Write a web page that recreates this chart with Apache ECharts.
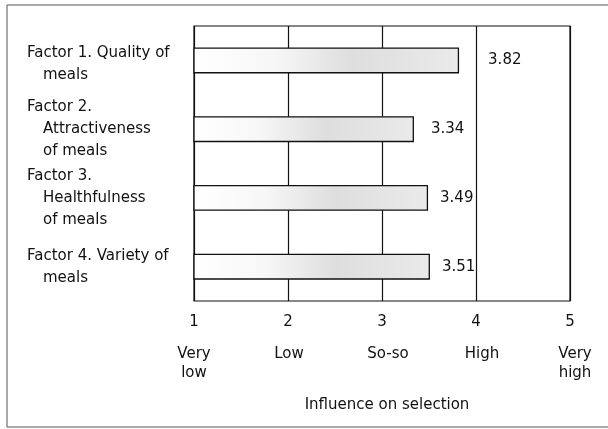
<!DOCTYPE html>
<html>
<head>
<meta charset="utf-8">
<script src="https://cdn.jsdelivr.net/npm/echarts@6/dist/echarts.min.js"></script>
<style>html,body{margin:0;padding:0;background:#fff}#c{width:608px;height:429px}</style>
</head>
<body>
<div id="c"></div>
<script>
const categories = [
  ['Factor 1. Quality of', 'meals'],
  ['Factor 2.', 'Attractiveness', 'of meals'],
  ['Factor 3.', 'Healthfulness', 'of meals'],
  ['Factor 4. Variety of', 'meals']
];
const values = [3.82, 3.34, 3.49, 3.51];
const tickValues = [1, 2, 3, 4, 5];
const tickWords = ['Very\nlow', 'Low', 'So-so', 'High', 'Very\nhigh'];
const axisTitle = 'Influence on selection';

const FONT = 'DejaVu Sans';
const labelGap = [29, 17, 12, 12];
const wordShift = [0, 2, 12, 12, 10];

const chart = echarts.init(document.getElementById('c'));
const catNames = categories.map(c => c.join('|'));

chart.setOption({
  animation: false,
  backgroundColor: '#fff',
  textStyle: { fontFamily: FONT },
  graphic: [{
    type: 'rect', silent: true, z: -1,
    shape: { x: 7, y: 5, width: 700, height: 422 },
    style: { fill: 'none', stroke: '#555', lineWidth: 1 }
  }],
  grid: { left: 194, top: 26, width: 376, height: 275, show: true, borderColor: '#111', borderWidth: 1.2, backgroundColor: 'transparent', containLabel: false, outerBoundsMode: 'none' },
  xAxis: [{
    type: 'value', min: 1, max: 5, interval: 1, position: 'bottom',
    axisLine: { show: false }, axisTick: { show: false },
    splitLine: { show: true, lineStyle: { color: '#111', width: 1.2 } },
    axisLabel: { margin: 13, fontSize: 15, color: '#111', fontFamily: FONT, lineHeight: 16,
      formatter: v => tickValues.includes(v) ? String(v) : '' }
  }, {
    type: 'value', min: 1, max: 5, interval: 1, position: 'bottom',
    axisLine: { show: false }, axisTick: { show: false }, splitLine: { show: false },
    axisLabel: { margin: 44, fontSize: 15, color: '#111', fontFamily: FONT, lineHeight: 19,
      formatter: v => {
        const i = tickValues.indexOf(v);
        if (i < 0) return '';
        return tickWords[i].split('\n').map(s => '{s' + wordShift[i] + '|' + s + '}').join('\n');
      },
      rich: {
        s0: { fontSize: 15, lineHeight: 19, color: '#111', fontFamily: FONT },
        s2: { fontSize: 15, lineHeight: 19, color: '#111', fontFamily: FONT, padding: [0, 0, 0, 2] },
        s10: { fontSize: 15, lineHeight: 19, color: '#111', fontFamily: FONT, padding: [0, 0, 0, 10] },
        s12: { fontSize: 15, lineHeight: 19, color: '#111', fontFamily: FONT, padding: [0, 0, 0, 12] }
      }
    },
    name: axisTitle, nameLocation: 'middle', nameGap: 97,
    nameTextStyle: { fontSize: 15, color: '#111', fontFamily: FONT, padding: [0, 0, 0, 10] }
  }],
  yAxis: {
    type: 'category', data: catNames, inverse: true,
    axisLine: { show: false }, axisTick: { show: false }, splitLine: { show: false },
    axisLabel: {
      align: 'left', margin: 167, fontSize: 15, color: '#111', fontFamily: FONT,
      formatter: (v, idx) => v.split('|').map((s, i) => '{' + (i === 0 ? 'f' : 'i') + (idx === 0 ? '0' : '') + '|' + s + '}').join('\n'),
      rich: {
        f0: { fontSize: 15, lineHeight: 22, fontFamily: FONT, color: '#111', padding: [7, 0, 0, 0] },
        i0: { fontSize: 15, lineHeight: 22, fontFamily: FONT, color: '#111', padding: [7, 0, 0, 16] },
        f: { fontSize: 15, lineHeight: 22, fontFamily: FONT, color: '#111' },
        i: { fontSize: 15, lineHeight: 22, fontFamily: FONT, color: '#111', padding: [0, 0, 0, 16] }
      }
    }
  },
  series: [{
    type: 'bar', xAxisIndex: 0,
    barWidth: 26,
    data: values.map((v, i) => ({ value: v, label: { distance: labelGap[i] } })),
    itemStyle: {
      borderColor: '#111', borderWidth: 1.3,
      color: new echarts.graphic.LinearGradient(0, 0, 1, 0, [
        { offset: 0, color: '#ffffff' },
        { offset: 0.3, color: '#f7f7f7' },
        { offset: 0.6, color: '#dedede' },
        { offset: 1, color: '#eaeaea' }
      ])
    },
    label: { show: true, position: 'right', fontSize: 15, color: '#111', fontFamily: FONT,
      formatter: p => p.value.toFixed(2) }
  }]
});
</script>
</body>
</html>
